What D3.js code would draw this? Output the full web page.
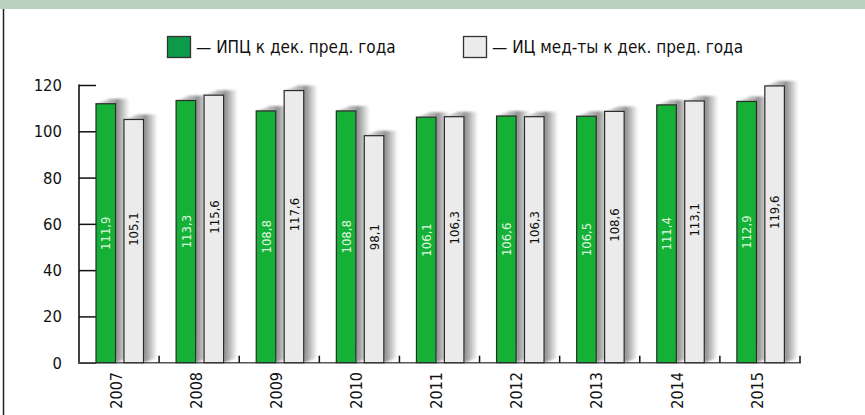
<!DOCTYPE html>
<html>
<head>
<meta charset="utf-8">
<script src="https://cdn.jsdelivr.net/npm/d3@7"></script>
<style>
	body { margin: 0; background: #fff; }
	svg { display: block; font-family: "DejaVu Sans Condensed", "Roboto", sans-serif; }
</style>
</head>
<body>
<svg id="chart" width="865" height="415"></svg>
<script>

// data
const years = ['2007', '2008', '2009', '2010', '2011', '2012', '2013', '2014', '2015'];
const cpi_values = [111.9, 113.3, 108.8, 108.8, 106.1, 106.6, 106.5, 111.4, 112.9];
const med_values = [105.1, 115.6, 117.6, 98.1, 106.3, 106.3, 108.6, 113.1, 119.6];
const series_names = ['— ИПЦ к дек. пред. года', '— ИЦ мед-ты к дек. пред. года'];
const y_ticks = [0, 20, 40, 60, 80, 100, 120];

const series_keys = ['cpi', 'med'];
const bar_fill = { cpi: '#15b136', med: '#ebebeb' };
const legend_fill = { cpi: '#0e9a4b', med: '#ececec' };

function drawChart() {
	const svg = d3.select('#chart');

	// header band + left frame line
	svg.append('rect')
		.attr('x', 0).attr('y', 0)
		.attr('width', 865).attr('height', 9)
		.attr('fill', '#b8d2bd');
	svg.append('line')
		.attr('x1', 3.5).attr('x2', 3.5)
		.attr('y1', 9).attr('y2', 415)
		.attr('stroke', '#222')
		.attr('stroke-width', 1.5);

	const x = d3.scaleBand()
		.domain(years)
		.range([79, 800]);

	const x_inner = d3.scaleBand()
		.domain(series_keys)
		.range([17, 64.5])
		.paddingInner(0.3);

	const y = d3.scaleLinear()
		.domain([0, 120])
		.range([362.7, 85]);

	const rows = years.map((yr, i) => ({ year: yr, cpi: cpi_values[i], med: med_values[i] }));
	const bars = [];
	rows.forEach(r => series_keys.forEach(k => bars.push({ year: r.year, key: k, value: r[k] })));

	const ru = d3.formatLocale({ decimal: ',', thousands: ' ', grouping: [3], currency: ['', ''] });
	const fmt = ru.format('.1f');

	// shadow definitions
	const defs = svg.append('defs');
	const grad = defs.append('linearGradient')
		.attr('id', 'shadow-grad')
		.attr('x1', '0%').attr('x2', '100%')
		.attr('y1', '0%').attr('y2', '0%');
	grad.append('stop').attr('offset', '0%').attr('stop-color', '#e4e4e4');
	grad.append('stop').attr('offset', '55%').attr('stop-color', '#a8a8a8');
	grad.append('stop').attr('offset', '62%').attr('stop-color', '#8e8e8e');
	grad.append('stop').attr('offset', '100%').attr('stop-color', '#ffffff');
	defs.append('filter')
		.attr('id', 'soft')
		.attr('x', '-20%').attr('y', '-20%')
		.attr('width', '140%').attr('height', '140%')
		.append('feGaussianBlur')
		.attr('stdDeviation', 1.2);

	const sdx = 14, sdy = 5;
	const bw = x_inner.bandwidth();
	const y0 = y(0);

	// axes: y axis line and inward ticks
	const y_axis = d3.axisRight(y)
		.tickValues(y_ticks)
		.tickSize(17)
		.tickFormat('');
	const y_g = svg.append('g')
		.attr('transform', 'translate(79,0)')
		.call(y_axis);
	y_g.select('.domain').remove();
	y_g.selectAll('line').attr('stroke', '#111').attr('stroke-width', 1.5);
	svg.append('line')
		.attr('x1', 79).attr('x2', 79)
		.attr('y1', y(120) - 0.5).attr('y2', y0 + 1)
		.attr('stroke', '#111').attr('stroke-width', 1.6);

	svg.append('g')
		.selectAll('text')
		.data(y_ticks)
		.join('text')
		.attr('x', 62)
		.attr('y', d => y(d))
		.attr('dy', '0.36em')
		.attr('text-anchor', 'end')
		.attr('font-size', 16.5)
		.attr('fill', '#111')
		.text(d => d);

	// shadows
	svg.append('g')
		.selectAll('path')
		.data(bars)
		.join('path')
		.attr('d', d => {
			const bx = x(d.year) + x_inner(d.key);
			const top = y(d.value);
			return 'M' + bx + ',' + top
				+ 'L' + (bx + sdx) + ',' + (top - sdy)
				+ 'L' + (bx + bw + sdx) + ',' + (top - sdy)
				+ 'L' + (bx + bw + sdx) + ',' + (y0 - sdy)
				+ 'L' + (bx + bw) + ',' + y0 + 'Z';
		})
		.attr('fill', 'url(#shadow-grad)')
		.attr('filter', 'url(#soft)');

	// x axis line with upward ticks at category edges
	svg.append('line')
		.attr('x1', 79).attr('x2', 801)
		.attr('y1', y0).attr('y2', y0)
		.attr('stroke', '#555').attr('stroke-width', 1.6);
	svg.append('g')
		.selectAll('line')
		.data(years)
		.join('line')
		.attr('x1', d => x(d) + x.bandwidth())
		.attr('x2', d => x(d) + x.bandwidth())
		.attr('y1', y0)
		.attr('y2', y0 - 7)
		.attr('stroke', '#111')
		.attr('stroke-width', 1.5);

	// bars
	svg.append('g')
		.selectAll('rect')
		.data(bars)
		.join('rect')
		.attr('x', d => x(d.year) + x_inner(d.key))
		.attr('y', d => y(d.value))
		.attr('width', bw)
		.attr('height', d => y0 - y(d.value))
		.attr('fill', d => bar_fill[d.key])
		.attr('stroke', '#2a2a2a')
		.attr('stroke-width', 1.2);

	// value labels, rotated
	svg.append('g')
		.selectAll('text')
		.data(bars)
		.join('text')
		.attr('transform', d => {
			const cx = x(d.year) + x_inner(d.key) + bw / 2;
			const cy = (y(d.value) + y0) / 2 - (d.key === 'med' ? 12 : 0);
			return 'translate(' + cx + ',' + cy + ') rotate(-90)';
		})
		.attr('text-anchor', 'middle')
		.attr('dy', '0.36em')
		.attr('font-size', 13)
		.attr('fill', d => d.key === 'cpi' ? '#dcf5dc' : '#111')
		.text(d => fmt(d.value));

	// year labels
	svg.append('g')
		.selectAll('text')
		.data(years)
		.join('text')
		.attr('transform', d => 'translate(' + (x(d) + x.bandwidth() / 2 - 3) + ',' + 372 + ') rotate(-90)')
		.attr('text-anchor', 'end')
		.attr('dy', '0.36em')
		.attr('font-size', 16)
		.attr('fill', '#111')
		.text(d => d);

	// legend
	const legend_x = [167, 463];
	const legend = svg.append('g')
		.selectAll('g')
		.data(series_keys)
		.join('g')
		.attr('transform', (d, i) => 'translate(' + legend_x[i] + ',36)');
	legend.append('rect')
		.attr('x', 0.5).attr('y', 0.5)
		.attr('width', 23).attr('height', 21)
		.attr('fill', d => legend_fill[d])
		.attr('stroke', '#333')
		.attr('stroke-width', 1.3);
	legend.append('text')
		.attr('x', 29)
		.attr('y', 16.5)
		.attr('font-size', 17)
		.attr('fill', '#111')
		.text((d, i) => series_names[i]);
}

function whenDocumentLoaded(action) {
	if (document.readyState === 'loading') {
		document.addEventListener('DOMContentLoaded', action);
	} else {
		action();
	}
}

whenDocumentLoaded(drawChart);
</script>
</body>
</html>
